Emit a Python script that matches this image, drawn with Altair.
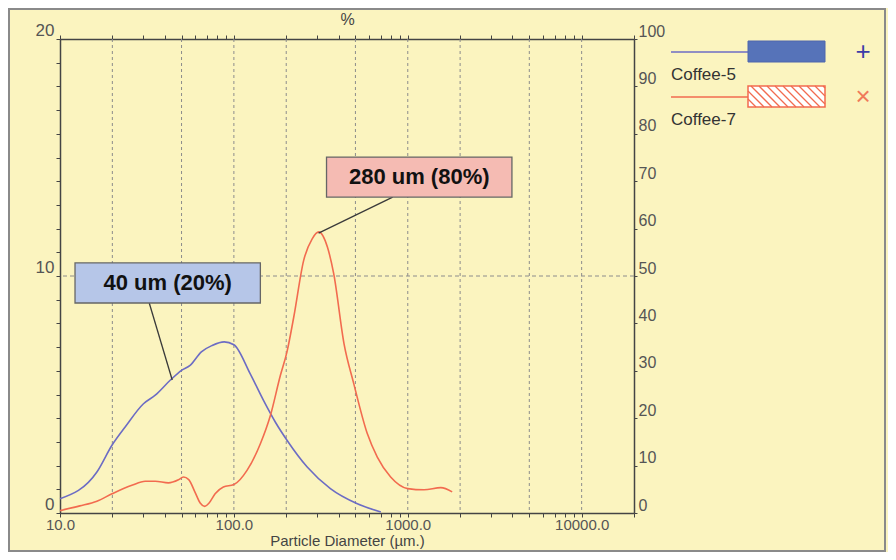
import altair as alt
import pandas as pd

# ---------------- data ----------------
diam_5 = [10, 16.3, 19.9, 23.7, 30.2, 35.3, 43, 50, 56, 65, 75, 88, 100, 124, 148, 173, 202, 264, 359, 513, 700]
pct_5 = [0.6, 1.73, 2.86, 3.63, 4.61, 4.97, 5.6, 6.02, 6.23, 6.8, 7.07, 7.22, 7.1, 5.88, 4.75, 3.84, 3.07, 1.94, 1.03, 0.39, 0.04]

diam_7 = [10, 13, 16.3, 19.9, 25.9, 30.9, 35.3, 42, 48, 51.3, 55, 60, 64, 68, 72, 78, 87, 100, 119, 142, 162, 185,
          202, 221, 252, 282, 308, 345, 375, 430, 489, 585, 668, 797, 1000, 1240, 1550, 1800]
pct_7 = [0.1, 0.3, 0.5, 0.81, 1.17, 1.34, 1.34, 1.27, 1.4, 1.52, 1.41, 0.85, 0.42, 0.28, 0.42, 0.81, 1.1, 1.2, 1.8, 2.92,
         4.1, 5.8, 6.8, 8.27, 10.66, 11.57, 11.86, 11.22, 10.1, 7.14, 5.46, 3.35, 2.36, 1.52, 1.03, 0.98, 1.07, 0.89]

series_names = ["Coffee-5", "Coffee-7"]
series_colors = ["#6C6CC4", "#F26B4F"]

grid_x = [20, 50, 100, 200, 500, 1000, 2000, 5000, 10000]
x_ticks = [d * k for d in [10, 100, 1000, 10000] for k in range(1, 10) if d * k <= 20000]
x_label_values = [10, 100, 1000, 10000]
y_left_ticks = list(range(0, 21))
y_right_ticks = list(range(0, 101, 10))

ann_text = ["40 um (20%)", "280 um (80%)"]
ann_x1 = [12.2, 341]
ann_x2 = [142, 3972]
ann_y1 = [8.86, 13.33]
ann_y2 = [10.55, 15.02]
ann_tx = [41.6, 1164]
ann_ty = [9.7, 14.18]
lead_x1 = [32.6, 819]
lead_y1 = [8.86, 13.33]
lead_x2 = [44.2, 307]
lead_y2 = [5.61, 11.81]
ann_fill = ["#B6C6E8", "#F5BBB3"]

# ---------------- tables ----------------
curves = pd.concat([
    pd.DataFrame({"d": diam_5, "v": pct_5, "s": series_names[0]}),
    pd.DataFrame({"d": diam_7, "v": pct_7, "s": series_names[1]}),
])
ann = pd.DataFrame({"text": ann_text, "x1": ann_x1, "x2": ann_x2, "y1": ann_y1, "y2": ann_y2,
                    "tx": ann_tx, "ty": ann_ty, "lx1": lead_x1, "ly1": lead_y1,
                    "lx2": lead_x2, "ly2": lead_y2, "fill": ann_fill})
dummy = pd.DataFrame({"a": [0]})

FONT = "Liberation Sans"
AX = "#444444"
LAB = "#555555"

xs = alt.Scale(type="log", domain=[10, 20000], nice=False)
ys = alt.Scale(domain=[0, 20], nice=False, zero=True)
yr = alt.Scale(domain=[0, 100], nice=False, zero=True)

label_list = ",".join(str(v) for v in x_label_values)

bottom_axis = alt.Axis(values=x_ticks, grid=False, tickSize=4, tickColor=AX, domainColor=AX,
                       domainWidth=1.5, labelExpr=f"indexof([{label_list}], datum.value) >= 0 ? format(datum.value, '.1f') : ''",
                       labelFont=FONT, labelFontSize=15, labelColor=LAB, labelPadding=0,
                       labelFlush=False, labelOverlap=False,
                       title="Particle Diameter (µm.)", titleFont=FONT, titleFontSize=15,
                       titleFontWeight="normal", titleColor=AX, titlePadding=1)
left_axis = alt.Axis(values=y_left_ticks, grid=False, tickSize=4, tickColor=AX, domainColor=AX,
                     domainWidth=1.5, labelExpr="datum.value % 10 === 0 ? datum.label : ''",
                     labelFont=FONT, labelFontSize=17, labelColor=LAB, labelPadding=2,
                     labelBaseline="bottom", labelFlush=False, labelOverlap=False, title=None)
right_axis = alt.Axis(orient="right", values=y_right_ticks, grid=False, tickSize=3, tickColor=AX,
                      domainColor=AX, domainWidth=1.5, labelFont=FONT, labelFontSize=16,
                      labelColor=LAB, labelPadding=1, labelBaseline="bottom", labelFlush=False,
                      labelOverlap=False, title=None)
top_axis = alt.Axis(orient="top", values=x_ticks, grid=False, labels=False, tickSize=4, tickColor=AX,
                    domainColor=AX, domainWidth=1.5, title="%", titleFont=FONT, titleFontSize=16,
                    titleFontWeight="normal", titleColor=AX, titlePadding=7)

# ---------------- layers ----------------
frame = alt.Chart(dummy).mark_rect(fillOpacity=0, stroke="#8a8a8a", strokeWidth=2).encode(
    x=alt.value(-51), x2=alt.value(825), y=alt.value(-30), y2=alt.value(512))

grid_v = alt.Chart(pd.DataFrame({"g": grid_x})).mark_rule(color="#8c8c8c", strokeDash=[3, 3], strokeWidth=1).encode(
    x=alt.X("g:Q", scale=xs, axis=None))
grid_h = alt.Chart(pd.DataFrame({"h": [10]})).mark_rule(color="#8c8c8c", strokeDash=[4, 3], strokeWidth=1).encode(
    y=alt.Y("h:Q", scale=ys, axis=None))

lines = alt.Chart(curves).mark_line(interpolate="monotone", strokeWidth=1.6).encode(
    x=alt.X("d:Q", scale=xs, axis=bottom_axis),
    y=alt.Y("v:Q", scale=ys, axis=left_axis),
    color=alt.Color("s:N", scale=alt.Scale(domain=series_names, range=series_colors), legend=None),
)

leaders = alt.Chart(ann).mark_rule(color="#3a3a3a", strokeWidth=1.3).encode(
    x=alt.X("lx1:Q", scale=xs, axis=None), x2="lx2:Q",
    y=alt.Y("ly1:Q", scale=ys, axis=None), y2="ly2:Q")

boxes = alt.Chart(ann).mark_rect(stroke="#666666", strokeWidth=1.3).encode(
    x=alt.X("x1:Q", scale=xs, axis=None), x2="x2:Q",
    y=alt.Y("y1:Q", scale=ys, axis=None), y2="y2:Q",
    fill=alt.Fill("fill:N", scale=None))

texts = alt.Chart(ann).mark_text(font=FONT, fontSize=22, fontWeight="bold", color="#111111").encode(
    x=alt.X("tx:Q", scale=xs, axis=None),
    y=alt.Y("ty:Q", scale=ys, axis=None),
    text="text:N")

right = alt.Chart(pd.DataFrame({"p": [0, 100]})).mark_point(opacity=0).encode(
    y=alt.Y("p:Q", scale=yr, axis=right_axis))
top = alt.Chart(pd.DataFrame({"t": [10, 20000]})).mark_point(opacity=0).encode(
    x=alt.X("t:Q", scale=xs, axis=top_axis))

# ---------------- legend (decoration) ----------------
def hline(x1, x2, y, color, w=1.6):
    return alt.Chart(dummy).mark_rule(color=color, strokeWidth=w).encode(
        x=alt.value(x1), x2=alt.value(x2), y=alt.value(y), y2=alt.value(y))

OY = 3  # legend vertical offset relative to plot top
legend = [
    hline(611, 688, 10 + OY, series_colors[0]),
    alt.Chart(dummy).mark_rect(fill="#5673B9", stroke="#4F67AD", strokeWidth=1).encode(
        x=alt.value(688), x2=alt.value(765), y=alt.value(-1 + OY), y2=alt.value(20 + OY)),
    alt.Chart(dummy).mark_text(text="+", font=FONT, fontSize=26, color="#3C3CA8", baseline="middle").encode(
        x=alt.value(803), y=alt.value(10 + OY)),
    alt.Chart(dummy).mark_text(text=series_names[0], font=FONT, fontSize=17, color="#333333",
                               align="left", baseline="middle").encode(x=alt.value(611), y=alt.value(33 + OY)),
    hline(611, 688, 55 + OY, series_colors[1]),
    alt.Chart(dummy).mark_rect(fill="white").encode(
        x=alt.value(688), x2=alt.value(765), y=alt.value(44 + OY), y2=alt.value(65 + OY)),
]
hx0, hx1, hy0, hy1 = 688, 765, 44 + OY, 65 + OY
hh = hy1 - hy0
for c in range(hx0 - hh, hx1, 8):
    t0 = max(0, hx0 - c)
    t1 = min(hh, hx1 - c)
    if t1 > t0:
        legend.append(alt.Chart(dummy).mark_rule(color="#F26B4F", strokeWidth=1.3).encode(
            x=alt.value(c + t0), x2=alt.value(c + t1), y=alt.value(hy0 + t0), y2=alt.value(hy0 + t1)))
legend += [
    alt.Chart(dummy).mark_rect(fillOpacity=0, stroke="#F26B4F", strokeWidth=1.5).encode(
        x=alt.value(688), x2=alt.value(765), y=alt.value(hy0), y2=alt.value(hy1)),
    alt.Chart(dummy).mark_text(text="×", font=FONT, fontSize=26, color="#F07A5A", baseline="middle").encode(
        x=alt.value(803), y=alt.value(55 + OY)),
    alt.Chart(dummy).mark_text(text=series_names[1], font=FONT, fontSize=17, color="#333333",
                               align="left", baseline="middle").encode(x=alt.value(611), y=alt.value(78 + OY)),
]

chart = alt.layer(
    frame, grid_v, grid_h, lines, leaders, boxes, texts, right, top, *legend
).resolve_scale(y="independent").resolve_axis(x="independent", y="independent").properties(
    width=574, height=474,
    autosize=alt.AutoSizeParams(type="none"),
    padding={"left": 52, "top": 31, "right": 254, "bottom": 39},
    background="#FBF4BF",
).configure_view(fill="white", stroke="#444444", strokeWidth=1.5).configure(font=FONT)

chart.save("out.html", embed_options={"renderer": "svg", "actions": False})
